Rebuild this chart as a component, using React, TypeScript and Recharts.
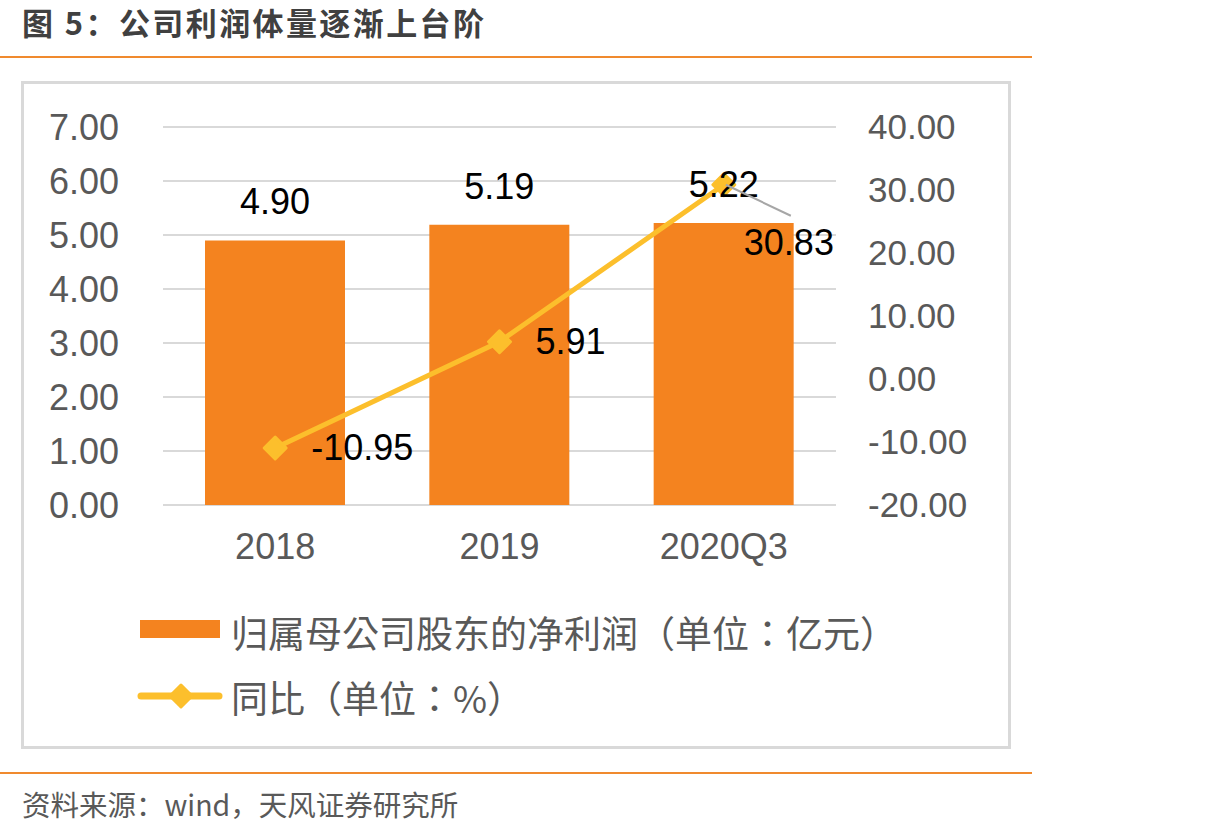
import React from "react";
import {
  ComposedChart,
  Bar,
  Line,
  XAxis,
  YAxis,
  CartesianGrid,
  LabelList,
  Legend,
} from "recharts";

const years = ["2018", "2019", "2020Q3"];
const netProfit = [4.9, 5.19, 5.22];
const yoyGrowth = [-10.95, 5.91, 30.83];
const leftTicks = [0, 1, 2, 3, 4, 5, 6, 7];
const rightTicks = [-20, -10, 0, 10, 20, 30, 40];

const data = years.map((year, i) => ({
  year,
  profit: netProfit[i],
  yoy: yoyGrowth[i],
}));

const ORANGE = "#F4831F";
const GOLD = "#FCBF2C";
const GRID = "#D9D9D9";
const GRAY_TEXT = "#595959";
const NUM_FONT = '"Liberation Sans", Arial, sans-serif';
const CJK_FONT = '"Noto Sans CJK SC", "Noto Sans", sans-serif';
// legend punctuation is centred in the reference, TC glyphs do that
const LEGEND_FONT = '"Noto Sans CJK TC", "Noto Sans CJK SC", sans-serif';

const fmt = (v: number) => Number(v).toFixed(2);

const diamondPoints = (cx: number, cy: number, r: number) =>
  `${cx},${cy - r} ${cx + r},${cy} ${cx},${cy + r} ${cx - r},${cy}`;

const Diamond = (props: any) => {
  const { cx, cy, index } = props;
  if (cx == null || cy == null) return null;
  return (
    <polygon
      key={`dot-${index}`}
      points={diamondPoints(cx, cy, 11)}
      fill={GOLD}
      stroke={GOLD}
      strokeWidth={3}
      strokeLinejoin="round"
    />
  );
};

// growth labels: right of the point, last one pushed down with a leader line
const YoyLabel = (props: any) => {
  const vb = props.viewBox || {};
  const x = vb.x ?? props.x;
  const y = vb.y ?? props.y;
  const idx = props.index ?? yoyGrowth.indexOf(props.value);
  const txt = fmt(props.value);
  const textProps = {
    fontSize: 36,
    fontFamily: NUM_FONT,
    fill: "#000",
    dominantBaseline: "central" as const,
  };
  if (idx === years.length - 1) {
    return (
      <g>
        <line x1={x + 2} y1={y} x2={x + 67} y2={y + 31} stroke="#A6A6A6" strokeWidth={2} />
        <text x={x + 20} y={y + 58} {...textProps}>
          {txt}
        </text>
      </g>
    );
  }
  return (
    <text x={x + 36} y={y} {...textProps}>
      {txt}
    </text>
  );
};

const LegendBox = () => (
  <svg width={820} height={150}>
    <rect x={10} y={20} width={80} height={18} fill={ORANGE} />
    <text x={101} y={32} dominantBaseline="central" fontSize={37} fill={GRAY_TEXT} fontFamily={LEGEND_FONT}>
      归属母公司股东的净利润（单位：亿元）
    </text>
    <line x1={11} y1={96} x2={89} y2={96} stroke={GOLD} strokeWidth={7} strokeLinecap="round" />
    <polygon points={diamondPoints(51, 96, 11)} fill={GOLD} stroke={GOLD} strokeWidth={3} strokeLinejoin="round" />
    <text x={101} y={97} dominantBaseline="central" fontSize={37} fill={GRAY_TEXT} fontFamily={LEGEND_FONT}>
      同比（单位：%）
    </text>
  </svg>
);

export default function App() {
  return (
    <div
      style={{
        position: "absolute",
        left: 0,
        top: 0,
        width: 1223,
        height: 836,
        background: "#fff",
        overflow: "hidden",
      }}
    >
      <div
        style={{
          position: "absolute",
          left: 22,
          top: 0,
          fontFamily: CJK_FONT,
          fontWeight: 700,
          fontSize: 31,
          lineHeight: "44px",
          letterSpacing: 2.4,
          color: "#404040",
          whiteSpace: "nowrap",
        }}
      >
        图 5：公司利润体量逐渐上台阶
      </div>
      <div style={{ position: "absolute", left: 0, top: 56, width: 1032, height: 2, background: "#F08A2E" }} />
      <div
        style={{
          position: "absolute",
          left: 21,
          top: 81,
          width: 990,
          height: 668,
          border: `3px solid ${GRID}`,
          boxSizing: "border-box",
        }}
      />

      <div style={{ position: "absolute", left: 0, top: 0 }}>
        <ComposedChart
          width={1223}
          height={836}
          data={data}
          margin={{ top: 127, right: 237, bottom: 271, left: 22 }}
        >
          <CartesianGrid yAxisId="left" vertical={false} stroke={GRID} strokeWidth={2} />
          <XAxis
            dataKey="year"
            axisLine={false}
            tickLine={false}
            tickSize={0}
            tickMargin={28}
            height={60}
            tick={{ fontSize: 36, fill: GRAY_TEXT, fontFamily: NUM_FONT }}
          />
          <YAxis
            yAxisId="left"
            domain={[0, 7]}
            ticks={leftTicks}
            interval={0}
            width={141}
            axisLine={false}
            tickLine={false}
            tickSize={0}
            tickMargin={44}
            tickFormatter={fmt}
            tick={{ fontSize: 36, fill: GRAY_TEXT, fontFamily: NUM_FONT }}
          />
          <YAxis
            yAxisId="right"
            orientation="right"
            domain={[-20, 40]}
            ticks={rightTicks}
            interval={0}
            width={150}
            axisLine={false}
            tickLine={false}
            tickSize={0}
            tickMargin={32}
            tickFormatter={fmt}
            tick={{ fontSize: 35, fill: GRAY_TEXT, fontFamily: NUM_FONT }}
          />
          <Bar yAxisId="left" dataKey="profit" fill={ORANGE} barSize={140} isAnimationActive={false}>
            <LabelList
              dataKey="profit"
              position="top"
              offset={26}
              formatter={(v: any) => fmt(v)}
              style={{ fontSize: 36, fill: "#000", fontFamily: NUM_FONT }}
            />
          </Bar>
          <Line
            yAxisId="right"
            dataKey="yoy"
            stroke={GOLD}
            strokeWidth={5}
            dot={Diamond}
            activeDot={false}
            isAnimationActive={false}
          >
            <LabelList dataKey="yoy" content={YoyLabel} />
          </Line>
          <Legend
            layout="horizontal"
            align="center"
            verticalAlign="middle"
            content={LegendBox}
            wrapperStyle={{ left: 130, top: 600, width: 820, height: 150 }}
          />
        </ComposedChart>
      </div>

      <div style={{ position: "absolute", left: 0, top: 772, width: 1032, height: 2, background: "#F08A2E" }} />
      <div
        style={{
          position: "absolute",
          left: 22,
          top: 784,
          fontFamily: CJK_FONT,
          fontSize: 28.5,
          lineHeight: "40px",
          color: GRAY_TEXT,
          whiteSpace: "nowrap",
        }}
      >
        资料来源：wind，天风证券研究所
      </div>
    </div>
  );
}
